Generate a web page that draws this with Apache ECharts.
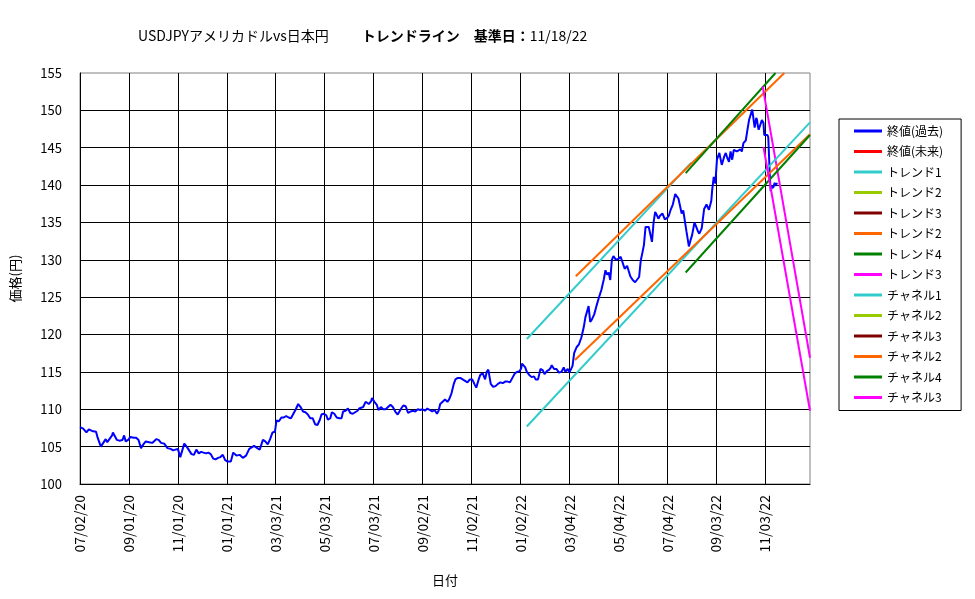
<!DOCTYPE html>
<html>
<head>
<meta charset="utf-8">
<title>USDJPY トレンドライン</title>
<script src="https://cdn.jsdelivr.net/npm/echarts@6/dist/echarts.min.js"></script>
<style>
  html, body { margin: 0; padding: 0; background: #fff; }
  #main { width: 975px; height: 599px; }
</style>
</head>
<body>
<div id="main"></div>
<script>
// 終値(過去)
const closeDates = [
  '2020-07-02','2020-07-06','2020-07-10','2020-07-13','2020-07-17','2020-07-22','2020-07-24','2020-07-28','2020-07-30',
  '2020-08-03','2020-08-05','2020-08-07','2020-08-11','2020-08-12','2020-08-17','2020-08-20','2020-08-24','2020-08-26','2020-08-28','2020-08-31',
  '2020-09-03','2020-09-07','2020-09-10','2020-09-13','2020-09-16','2020-09-19','2020-09-22','2020-09-26','2020-09-30',
  '2020-10-05','2020-10-08','2020-10-11','2020-10-15','2020-10-19','2020-10-23','2020-10-26','2020-10-29',
  '2020-11-01','2020-11-04','2020-11-06','2020-11-09','2020-11-12','2020-11-15','2020-11-18','2020-11-21','2020-11-24','2020-11-27','2020-11-30',
  '2020-12-02','2020-12-06','2020-12-09','2020-12-12','2020-12-15','2020-12-18','2020-12-21','2020-12-24','2020-12-27','2020-12-30',
  '2021-01-02','2021-01-04','2021-01-06','2021-01-09','2021-01-13','2021-01-17','2021-01-21','2021-01-25','2021-01-29',
  '2021-02-01','2021-02-04','2021-02-08','2021-02-11','2021-02-15','2021-02-18','2021-02-21','2021-02-24','2021-02-27',
  '2021-03-02','2021-03-04','2021-03-07','2021-03-10','2021-03-13','2021-03-16','2021-03-19','2021-03-22','2021-03-25','2021-03-28','2021-03-31',
  '2021-04-03','2021-04-06','2021-04-09','2021-04-12','2021-04-15','2021-04-18','2021-04-21','2021-04-24','2021-04-27','2021-04-29',
  '2021-05-02','2021-05-05','2021-05-07','2021-05-10','2021-05-12','2021-05-15','2021-05-18','2021-05-21','2021-05-24','2021-05-26','2021-05-29',
  '2021-06-01','2021-06-04','2021-06-07','2021-06-10','2021-06-13','2021-06-15','2021-06-17','2021-06-20','2021-06-23','2021-06-27','2021-06-30',
  '2021-07-01','2021-07-04','2021-07-07','2021-07-09','2021-07-12','2021-07-15','2021-07-18','2021-07-21','2021-07-24','2021-07-27','2021-07-30',
  '2021-08-02','2021-08-04','2021-08-07','2021-08-09','2021-08-12','2021-08-15','2021-08-18','2021-08-21','2021-08-24','2021-08-27','2021-08-30',
  '2021-09-02','2021-09-05','2021-09-08','2021-09-11','2021-09-14','2021-09-17','2021-09-20','2021-09-22','2021-09-24','2021-09-27','2021-09-30',
  '2021-10-03','2021-10-05','2021-10-08','2021-10-11','2021-10-13','2021-10-16','2021-10-19','2021-10-22','2021-10-25','2021-10-28','2021-10-31',
  '2021-11-03','2021-11-06','2021-11-08','2021-11-11','2021-11-13','2021-11-16','2021-11-19','2021-11-21','2021-11-23','2021-11-26','2021-11-29',
  '2021-12-02','2021-12-05','2021-12-08','2021-12-11','2021-12-14','2021-12-17','2021-12-20','2021-12-23','2021-12-26','2021-12-29',
  '2022-01-01','2022-01-03','2022-01-04','2022-01-06','2022-01-08','2022-01-10','2022-01-13','2022-01-16','2022-01-19','2022-01-21','2022-01-24','2022-01-27','2022-01-30',
  '2022-02-01','2022-02-04','2022-02-07','2022-02-09','2022-02-10','2022-02-13','2022-02-16','2022-02-19','2022-02-22','2022-02-25','2022-02-27',
  '2022-03-02','2022-03-04','2022-03-06','2022-03-08','2022-03-10','2022-03-13','2022-03-16','2022-03-19','2022-03-22','2022-03-24','2022-03-28','2022-03-30',
  '2022-04-01','2022-04-04','2022-04-07','2022-04-10','2022-04-13','2022-04-16','2022-04-18','2022-04-20','2022-04-22','2022-04-24','2022-04-26','2022-04-28',
  '2022-05-01','2022-05-04','2022-05-07','2022-05-09','2022-05-12','2022-05-15','2022-05-17','2022-05-19','2022-05-22','2022-05-25','2022-05-27','2022-05-30',
  '2022-06-01','2022-06-03','2022-06-05','2022-06-07','2022-06-09','2022-06-11','2022-06-13','2022-06-15','2022-06-17','2022-06-19','2022-06-21','2022-06-23','2022-06-25','2022-06-28',
  '2022-07-01','2022-07-04','2022-07-06','2022-07-08','2022-07-11','2022-07-14','2022-07-16','2022-07-18','2022-07-20','2022-07-22','2022-07-24','2022-07-26','2022-07-28','2022-07-31',
  '2022-08-02','2022-08-04','2022-08-07','2022-08-09','2022-08-11','2022-08-13','2022-08-16','2022-08-19','2022-08-22','2022-08-25','2022-08-28','2022-08-29','2022-08-31',
  '2022-09-02','2022-09-04','2022-09-07','2022-09-10','2022-09-13','2022-09-15','2022-09-17','2022-09-19','2022-09-21','2022-09-23','2022-09-25','2022-09-27','2022-09-29',
  '2022-10-01','2022-10-03','2022-10-05','2022-10-07','2022-10-10','2022-10-12','2022-10-14','2022-10-16','2022-10-18','2022-10-21','2022-10-23','2022-10-24','2022-10-25','2022-10-26','2022-10-28','2022-10-30',
  '2022-11-01','2022-11-02','2022-11-04','2022-11-06','2022-11-07','2022-11-09','2022-11-10','2022-11-12','2022-11-13','2022-11-15','2022-11-16','2022-11-18'
];
const closeValues = [
  107.6,107.4,106.9,107.3,107.1,107.0,106.2,105.0,104.8,
  106.0,105.6,105.9,106.5,106.9,105.9,105.8,105.9,106.5,105.7,105.9,
  106.3,106.2,106.2,105.9,104.8,105.3,105.7,105.6,105.5,
  106.0,105.9,105.5,105.4,104.8,104.7,104.5,104.6,
  104.7,103.6,103.4,105.4,105.0,104.5,104.0,103.9,104.6,104.1,104.3,
  104.2,104.1,104.2,104.0,103.4,103.3,103.5,103.6,103.9,103.2,
  103.0,102.8,103.0,104.2,103.8,103.9,103.5,103.8,104.7,
  104.9,105.1,104.8,104.6,105.9,105.7,105.3,106.0,106.9,
  107.0,108.5,108.4,108.9,108.9,109.1,108.9,108.8,109.4,110.0,110.7,
  110.3,109.7,109.6,109.3,108.8,108.8,108.0,107.9,108.6,109.3,
  109.4,109.2,108.6,108.8,109.6,109.4,108.9,108.8,108.8,109.7,109.8,
  110.1,109.5,109.4,109.6,109.8,110.1,110.2,110.3,111.0,110.7,111.1,
  111.5,111.0,110.6,109.9,110.3,110.0,110.0,110.3,110.6,110.3,109.7,
  109.3,109.5,110.2,110.5,110.4,109.5,109.7,109.8,109.7,110.0,109.9,
  110.0,109.8,110.1,109.9,109.7,109.9,109.4,109.8,110.7,111.0,111.3,
  111.0,111.3,112.1,113.4,114.0,114.2,114.2,114.0,113.8,113.6,114.0,
  114.0,113.3,112.9,114.0,114.6,114.8,114.0,115.0,115.3,113.4,113.0,
  113.1,113.4,113.6,113.5,113.7,113.7,113.6,114.2,114.8,115.0,
  115.1,115.5,116.1,115.9,115.6,115.0,114.6,114.3,114.4,114.0,114.0,115.4,115.2,
  114.7,115.1,115.3,115.6,115.9,115.4,115.4,114.9,115.0,115.6,115.0,
  115.4,114.9,114.8,115.8,117.5,118.3,118.7,119.6,121.0,122.3,123.8,121.7,
  122.0,122.7,123.9,125.0,126.0,127.4,128.6,128.0,128.3,127.3,130.0,130.5,
  130.0,130.1,130.4,130.2,128.8,129.2,129.1,127.8,127.3,127.0,127.1,127.7,
  129.9,130.9,132.0,134.4,134.6,134.4,134.5,132.4,135.0,136.4,136.0,135.5,135.9,136.2,
  135.4,135.6,135.9,136.6,137.4,138.8,138.5,138.2,138.0,136.2,136.6,136.7,133.8,131.8,
  132.6,133.3,135.0,134.9,133.9,133.5,134.2,136.8,137.4,136.7,137.9,139.3,141.1,
  140.2,143.4,144.3,142.7,143.8,144.3,143.6,143.1,144.5,143.4,144.7,144.5,144.5,
  144.7,144.8,144.5,145.6,146.0,147.4,148.7,148.9,150.1,147.7,149.0,148.7,147.9,147.4,147.5,148.7,
  148.3,146.7,146.6,146.7,146.4,141.0,139.2,139.9,139.6,140.3,139.9,140.3
];

// トレンドライン / チャネル (start, end)
const trend1Dates = ['2022-01-10', '2022-08-03'];
const trend1Values = [119.4, 143.0];
const trend2Dates = ['2022-03-12', '2022-11-27'];
const trend2Values = [127.8, 155.0];
const trend4Dates = ['2022-07-27', '2022-11-16'];
const trend4Values = [141.6, 155.0];
const trend3Dates = ['2022-10-31', '2022-12-29'];
const trend3Values = [153.2, 116.9];
const channel1Dates = ['2022-01-10', '2022-12-29'];
const channel1Values = [107.7, 148.4];
const channel2Dates = ['2022-03-11', '2022-12-29'];
const channel2Values = [116.6, 146.8];
const channel4Dates = ['2022-07-27', '2022-12-29'];
const channel4Values = [128.3, 146.7];
const channel3Dates = ['2022-11-01', '2022-12-29'];
const channel3Values = [145.1, 109.8];

const startDate = '2020-07-02';
const endDate = '2022-12-29';
const yMin = 100, yMax = 155, yStep = 5;
const xStepDays = 61;

const FONT = '"Noto Sans CJK JP", sans-serif';
const DAY = 86400000;
function dayOf(s) {
  const p = s.split('-').map(Number);
  const q = startDate.split('-').map(Number);
  return Math.round((Date.UTC(p[0], p[1] - 1, p[2]) - Date.UTC(q[0], q[1] - 1, q[2])) / DAY);
}
function fmtDay(d) {
  const q = startDate.split('-').map(Number);
  const t = new Date(Date.UTC(q[0], q[1] - 1, q[2]) + d * DAY);
  const mm = String(t.getUTCMonth() + 1).padStart(2, '0');
  const dd = String(t.getUTCDate()).padStart(2, '0');
  const yy = String(t.getUTCFullYear() % 100).padStart(2, '0');
  return mm + '/' + dd + '/' + yy;
}
function pairs(dates, values) {
  return dates.map((d, i) => [dayOf(d), values[i]]);
}

function line(name, color, data) {
  return {
    name: name,
    type: 'line',
    data: data,
    showSymbol: false,
    symbol: 'none',
    lineStyle: { color: color, width: 2 },
    itemStyle: { color: color },
    emphasis: { disabled: true },
    animation: false
  };
}

const BLUE = '#0000FF', RED = '#FF0000', CYAN = '#33CCCC', YGREEN = '#99CC00',
      DRED = '#800000', ORANGE = '#FF6600', GREEN = '#008000', MAGENTA = '#FF00FF';

const series = [
  line('終値(過去)', BLUE, pairs(closeDates, closeValues)),
  line('終値(未来)', RED, []),
  line('トレンド1', CYAN, pairs(trend1Dates, trend1Values)),
  line('トレンド2', YGREEN, []),
  line('トレンド3', DRED, []),
  line('トレンド2#b', ORANGE, pairs(trend2Dates, trend2Values)),
  line('トレンド4', GREEN, pairs(trend4Dates, trend4Values)),
  line('トレンド3#b', MAGENTA, pairs(trend3Dates, trend3Values)),
  line('チャネル1', CYAN, pairs(channel1Dates, channel1Values)),
  line('チャネル2', YGREEN, []),
  line('チャネル3', DRED, []),
  line('チャネル2#b', ORANGE, pairs(channel2Dates, channel2Values)),
  line('チャネル4', GREEN, pairs(channel4Dates, channel4Values)),
  line('チャネル3#b', MAGENTA, pairs(channel3Dates, channel3Values))
];

const chart = echarts.init(document.getElementById('main'), null, { renderer: 'canvas' });
chart.setOption({
  backgroundColor: '#fff',
  animation: false,
  title: {
    left: 133,
    top: 24,
    text: '{a|USDJPYアメリカドルvs日本円}{b|トレンドライン　基準日：}{c|11/18/22}',
    textStyle: {
      fontFamily: FONT,
      fontWeight: 'normal',
      rich: {
        a: { fontFamily: FONT, fontSize: 14, fontWeight: 'normal', color: '#000' },
        b: { fontFamily: FONT, fontSize: 14, fontWeight: 'bold', color: '#000', padding: [0, 0, 0, 33] },
        c: { fontFamily: FONT, fontSize: 14, fontWeight: 'normal', color: '#000' }
      }
    }
  },
  legend: {
    orient: 'vertical',
    left: 839,
    top: 119,
    padding: [6, 18, 7, 15],
    itemGap: 8.5,
    itemWidth: 28,
    itemHeight: 3,
    icon: 'rect',
    borderColor: '#000',
    borderWidth: 1,
    backgroundColor: '#fff',
    selectedMode: false,
    textStyle: { fontFamily: FONT, fontSize: 12, color: '#000' },
    formatter: n => n.split('#')[0],
    data: series.map(s => s.name)
  },
  grid: {
    left: 80, right: 165, top: 73, bottom: 115,
    containLabel: false,
    show: true,
    borderColor: '#808080',
    borderWidth: 1,
    backgroundColor: '#fff'
  },
  xAxis: {
    type: 'value',
    min: 0,
    max: dayOf(endDate),
    interval: xStepDays,
    name: '日付',
    nameLocation: 'middle',
    nameGap: 90,
    nameTextStyle: { fontFamily: FONT, fontSize: 13, color: '#000' },
    axisLine: { show: true, onZero: false, lineStyle: { color: '#000', width: 1 } },
    axisTick: { show: false },
    axisLabel: {
      rotate: 90,
      margin: 11,
      fontFamily: FONT,
      fontSize: 14,
      color: '#000',
      showMaxLabel: false,
      formatter: v => (v % xStepDays === 0 ? fmtDay(v) : '')
    },
    splitLine: { show: true, showMinLine: false, showMaxLine: false, lineStyle: { color: '#000', width: 1 } }
  },
  yAxis: {
    type: 'value',
    min: yMin,
    max: yMax,
    interval: yStep,
    name: '価格(円)',
    nameLocation: 'middle',
    nameRotate: 90,
    nameGap: 58,
    nameTextStyle: { fontFamily: FONT, fontSize: 13, color: '#000' },
    axisLine: { show: true, lineStyle: { color: '#000', width: 1 } },
    axisTick: { show: false },
    axisLabel: { margin: 18, fontFamily: FONT, fontSize: 13, color: '#000' },
    splitLine: { show: true, showMinLine: false, showMaxLine: false, lineStyle: { color: '#000', width: 1 } }
  },
  series: series
});
</script>
</body>
</html>
